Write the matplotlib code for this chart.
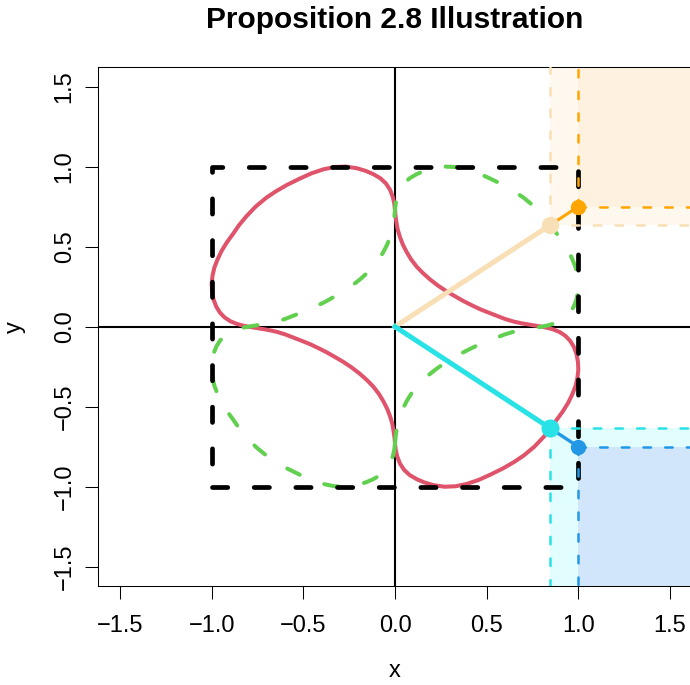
import matplotlib
matplotlib.use("Agg")
import matplotlib.pyplot as plt

plt.rcParams['font.family'] = ['Liberation Sans', 'DejaVu Sans']
plt.rcParams['lines.scale_dashes'] = False

# red solid curve, one closed loop:
# upper-left lobe, lower-left arc, lower-right lobe, upper-right arc
red_x = [0.000, -0.004, -0.012, -0.027, -0.050, -0.080, -0.119, -0.160, -0.210, -0.270,
         -0.330, -0.390, -0.455, -0.519, -0.590, -0.650, -0.701, -0.760, -0.810, -0.850,
         -0.883, -0.915, -0.945, -0.968, -0.985, -0.995, -1.000, -0.998, -0.990, -0.975,
         -0.955, -0.930, -0.900, -0.865, -0.830, -0.800,
         -0.737, -0.690, -0.646, -0.600, -0.555, -0.510, -0.464, -0.420, -0.373, -0.330,
         -0.282, -0.235, -0.191, -0.152, -0.118, -0.088, -0.064, -0.043, -0.027, -0.015,
         -0.008, -0.003,
         0.000, 0.004, 0.012, 0.027, 0.050, 0.080, 0.119, 0.160, 0.210, 0.270,
         0.330, 0.390, 0.455, 0.519, 0.590, 0.650, 0.701, 0.760, 0.810, 0.850,
         0.883, 0.915, 0.945, 0.968, 0.985, 0.995, 1.000, 0.998, 0.990, 0.975,
         0.955, 0.930, 0.900, 0.865, 0.830, 0.800,
         0.737, 0.690, 0.646, 0.600, 0.555, 0.510, 0.464, 0.420, 0.373, 0.330,
         0.282, 0.235, 0.191, 0.152, 0.118, 0.088, 0.064, 0.043, 0.027, 0.015,
         0.008, 0.003, 0.000]
red_y = [0.730, 0.770, 0.810, 0.855, 0.895, 0.927, 0.953, 0.973, 0.990, 1.000,
         0.997, 0.983, 0.958, 0.925, 0.885, 0.845, 0.806, 0.750, 0.690, 0.635,
         0.580, 0.530, 0.475, 0.420, 0.370, 0.320, 0.270, 0.220, 0.170, 0.125,
         0.088, 0.058, 0.035, 0.018, 0.007, 0.000,
         -0.012, -0.021, -0.032, -0.048, -0.068, -0.088, -0.109, -0.133, -0.160, -0.188,
         -0.220, -0.256, -0.295, -0.335, -0.375, -0.420, -0.465, -0.512, -0.560, -0.605,
         -0.650, -0.690,
         -0.730, -0.770, -0.810, -0.855, -0.895, -0.927, -0.953, -0.973, -0.990, -1.000,
         -0.997, -0.983, -0.958, -0.925, -0.885, -0.845, -0.806, -0.750, -0.690, -0.635,
         -0.580, -0.530, -0.475, -0.420, -0.370, -0.320, -0.270, -0.220, -0.170, -0.125,
         -0.088, -0.058, -0.035, -0.018, -0.007, 0.000,
         0.012, 0.021, 0.032, 0.048, 0.068, 0.088, 0.109, 0.133, 0.160, 0.188,
         0.220, 0.256, 0.295, 0.335, 0.375, 0.420, 0.465, 0.512, 0.560, 0.605,
         0.650, 0.690, 0.730]

# green dashed curve: mirror image of the red one across the x axis
green_x = red_x
green_y = [-0.730, -0.770, -0.810, -0.855, -0.895, -0.927, -0.953, -0.973, -0.990, -1.000,
           -0.997, -0.983, -0.958, -0.925, -0.885, -0.845, -0.806, -0.750, -0.690, -0.635,
           -0.580, -0.530, -0.475, -0.420, -0.370, -0.320, -0.270, -0.220, -0.170, -0.125,
           -0.088, -0.058, -0.035, -0.018, -0.007, 0.000,
           0.012, 0.021, 0.032, 0.048, 0.068, 0.088, 0.109, 0.133, 0.160, 0.188,
           0.220, 0.256, 0.295, 0.335, 0.375, 0.420, 0.465, 0.512, 0.560, 0.605,
           0.650, 0.690,
           0.730, 0.770, 0.810, 0.855, 0.895, 0.927, 0.953, 0.973, 0.990, 1.000,
           0.997, 0.983, 0.958, 0.925, 0.885, 0.845, 0.806, 0.750, 0.690, 0.635,
           0.580, 0.530, 0.475, 0.420, 0.370, 0.320, 0.270, 0.220, 0.170, 0.125,
           0.088, 0.058, 0.035, 0.018, 0.007, 0.000,
           -0.012, -0.021, -0.032, -0.048, -0.068, -0.088, -0.109, -0.133, -0.160, -0.188,
           -0.220, -0.256, -0.295, -0.335, -0.375, -0.420, -0.465, -0.512, -0.560, -0.605,
           -0.650, -0.690, -0.730]

box_x = [-1, 1, 1, -1, -1]
box_y = [-1, -1, 1, 1, -1]

# points on the curves and on the unit box
up_curve = (0.847, 0.635)
up_box = (1.0, 0.75)
low_curve = (0.847, -0.635)
low_box = (1.0, -0.75)

ticks = [-1.5, -1.0, -0.5, 0.0, 0.5, 1.0, 1.5]
tick_labels = ["\u22121.5", "\u22121.0", "\u22120.5", "0.0", "0.5", "1.0", "1.5"]
lim = 1.62

fig = plt.figure(figsize=(6.9, 6.85), dpi=100)
ax = fig.add_axes([98 / 690, 99 / 685, 594 / 690, 518.7 / 685])
ax.set_xlim(-lim, lim)
ax.set_ylim(-lim, lim)

# shaded regions
ax.fill_between([up_curve[0], lim], up_curve[1], lim, color="#FFF8EE", lw=0, zorder=0)
ax.fill_between([up_box[0], lim], up_box[1], lim, color="#FFF1DF", lw=0, zorder=0)
ax.fill_between([low_curve[0], lim], -lim, low_curve[1], color="#E1FDFD", lw=0, zorder=0)
ax.fill_between([low_box[0], lim], -lim, low_box[1], color="#D1E6FB", lw=0, zorder=0)

ax.axhline(0, color="black", lw=1.5, zorder=1)
ax.axvline(0, color="black", lw=1.5, zorder=1)

ax.plot(red_x, red_y, color="#DF536B", lw=2.9, solid_joinstyle="round", zorder=2)
ax.plot(green_x, green_y, color="#61D04F", lw=2.9, dashes=(10, 19),
        dash_capstyle="round", zorder=2)
ax.plot(box_x, box_y, color="black", lw=3.4, dashes=(11, 19),
        dash_capstyle="round", zorder=3)

thin = dict(lw=1.8, dashes=(5.4, 10.2), dash_capstyle="round", zorder=4)
ax.plot([up_curve[0], up_curve[0]], [up_curve[1], lim], color="#F9DFB5", **thin)
ax.plot([up_curve[0], lim], [up_curve[1], up_curve[1]], color="#F9DFB5", **thin)
ax.plot([up_box[0], up_box[0]], [up_box[1], lim], color="#FFA500", **thin)
ax.plot([up_box[0], lim], [up_box[1], up_box[1]], color="#FFA500", **thin)
ax.plot([low_curve[0], low_curve[0]], [low_curve[1], -lim], color="#28E2E5", **thin)
ax.plot([low_curve[0], lim], [low_curve[1], low_curve[1]], color="#28E2E5", **thin)
ax.plot([low_box[0], low_box[0]], [low_box[1], -lim], color="#2297E6", **thin)
ax.plot([low_box[0], lim], [low_box[1], low_box[1]], color="#2297E6", **thin)

ax.plot([0, up_curve[0]], [0, up_curve[1]], color="#F9DFB5", lw=3.6, zorder=5)
ax.plot([up_curve[0], up_box[0]], [up_curve[1], up_box[1]], color="#FFA500", lw=2.2, zorder=5)
ax.plot([0, low_curve[0]], [0, low_curve[1]], color="#28E2E5", lw=3.6, zorder=5)
ax.plot([low_curve[0], low_box[0]], [low_curve[1], low_box[1]], color="#2297E6", lw=2.4, zorder=5)

ax.plot(*up_curve, "o", color="#F9DFB5", ms=11.5, zorder=6)
ax.plot(*up_box, "o", color="#FFA500", ms=10, zorder=6)
ax.plot(*low_curve, "o", color="#28E2E5", ms=12, zorder=6)
ax.plot(*low_box, "o", color="#2297E6", ms=10, zorder=6)

ax.set_xticks(ticks)
ax.set_xticklabels(tick_labels)
ax.set_yticks(ticks)
ax.set_yticklabels(tick_labels, rotation=90, va="center")
ax.tick_params(direction="out", length=9.1, width=0.75, labelsize=17)
ax.tick_params(axis="x", pad=11.5)
ax.tick_params(axis="y", pad=7)
for s in ax.spines.values():
    s.set_linewidth(0.75)

ax.set_xlabel("x", fontsize=17, labelpad=17)
ax.set_ylabel("y", fontsize=17, labelpad=20)
ax.set_title("Proposition 2.8 Illustration", fontsize=21.5, fontweight="bold", pad=28)

fig.savefig("out.png", dpi=100)
